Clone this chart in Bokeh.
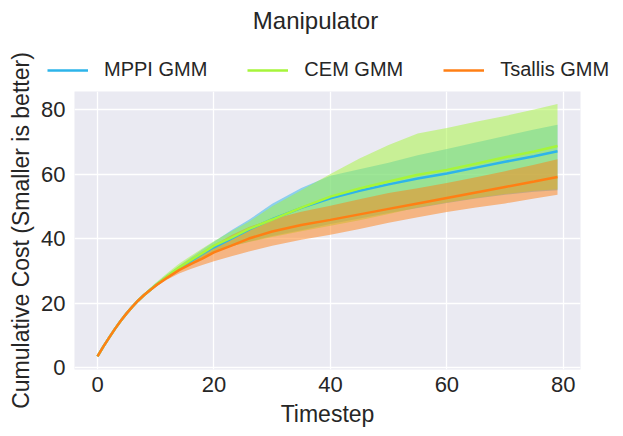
from bokeh.plotting import figure
from bokeh.models import Legend, LegendItem, Range1d, FixedTicker, Label
from bokeh.layouts import row, column
from bokeh.embed import file_html
from bokeh.resources import INLINE

# ---- data ----
timesteps = [0, 1, 2, 3, 4, 5, 6, 7, 8, 9, 10, 12, 14, 16, 18, 20, 23, 26, 30, 35,
             40, 45, 50, 55, 60, 65, 70, 75, 79]

mppi_mean = [3.5, 6.5, 9.3, 12.0, 14.5, 16.8, 18.9, 20.8, 22.5, 24.0, 25.5, 28.2, 30.8, 33.0, 35.2, 37.3, 40.0, 42.8, 46.0, 49.5,
             52.5, 54.8, 56.8, 58.6, 60.2, 62.0, 63.8, 65.5, 67.1]
mppi_lo = [3.5, 6.5, 9.3, 12.0, 14.5, 16.7, 18.8, 20.6, 22.3, 23.8, 25.2, 27.7, 30.1, 32.1, 34.0, 35.8, 37.6, 39.0, 40.8, 42.6,
           44.5, 46.2, 47.9, 49.5, 51.0, 52.4, 53.6, 54.5, 55.0]
mppi_hi = [3.5, 6.5, 9.3, 12.0, 14.6, 16.9, 19.1, 21.1, 22.9, 24.5, 26.0, 28.9, 31.6, 34.1, 36.6, 39.0, 42.6, 45.8, 50.8, 55.7,
           59.5, 61.5, 63.5, 65.8, 67.8, 69.8, 71.8, 73.8, 75.3]

cem_mean = [3.5, 6.5, 9.3, 12.0, 14.5, 16.8, 18.9, 20.8, 22.5, 24.0, 25.5, 28.3, 31.0, 33.3, 35.5, 37.8, 40.3, 43.0, 45.9, 49.6,
            53.0, 55.5, 57.7, 59.8, 61.3, 63.2, 65.2, 67.0, 68.7]
cem_lo = [3.5, 6.5, 9.3, 12.0, 14.5, 16.7, 18.8, 20.6, 22.3, 23.8, 25.1, 27.6, 30.0, 32.0, 34.0, 36.0, 37.6, 38.9, 40.5, 42.3,
          44.0, 45.7, 47.6, 49.6, 51.2, 52.6, 53.8, 54.8, 55.3]
cem_hi = [3.5, 6.5, 9.4, 12.1, 14.7, 17.0, 19.2, 21.2, 23.0, 24.7, 26.3, 29.3, 32.2, 34.6, 36.9, 39.2, 42.3, 45.2, 50.0, 55.0,
          60.0, 64.8, 69.0, 72.6, 74.3, 76.2, 78.0, 80.0, 81.7]

tsallis_mean = [3.5, 6.5, 9.3, 12.0, 14.5, 16.8, 18.9, 20.8, 22.5, 24.0, 25.4, 27.9, 30.2, 32.1, 33.8, 35.7, 37.8, 40.0, 42.2, 44.2,
                45.8, 47.5, 49.2, 50.9, 52.6, 54.3, 56.0, 57.7, 59.1]
tsallis_lo = [3.5, 6.5, 9.3, 12.0, 14.4, 16.6, 18.6, 20.4, 22.0, 23.5, 25.1, 27.3, 29.2, 30.6, 31.8, 33.0, 34.5, 36.0, 37.8, 39.6,
              41.2, 43.0, 44.9, 46.6, 48.2, 49.6, 50.9, 52.4, 53.6]
tsallis_hi = [3.5, 6.5, 9.3, 12.0, 14.6, 16.9, 19.1, 21.0, 22.8, 24.3, 25.7, 28.3, 30.8, 33.0, 35.2, 38.0, 41.0, 43.6, 46.0, 48.3,
              50.2, 52.2, 54.1, 55.6, 57.2, 59.0, 60.9, 62.9, 64.6]

series_names = ["MPPI GMM", "CEM GMM", "Tsallis GMM"]
x_ticks = [0, 20, 40, 60, 80]
y_ticks = [0, 20, 40, 60, 80]
title_text = "Manipulator"
x_label = "Timestep"
y_label = "Cumulative Cost (Smaller is better)"

# ---- styling ----
FONT = "Liberation Sans"
TXT = "#262626"
colors = ["#2db4ea", "#a6f53a", "#ff7f14"]

LEFT_W, RIGHT_W = 38, 577
TOP_H, MAIN_H = 91, 343


def blank(w, h):
    f = figure(width=w, height=h, output_backend="svg", toolbar_location=None,
               x_axis_location=None, y_axis_location=None, frame_align=False,
               x_range=Range1d(0, w), y_range=Range1d(0, h), min_border=0,
               min_border_left=0, min_border_right=0, min_border_top=0, min_border_bottom=0)
    f.outline_line_color = None
    f.grid.visible = False
    f.background_fill_color = "white"
    f.border_fill_color = "white"
    return f


# left strip holding the y-axis label (spans the full height)
left = blank(LEFT_W, TOP_H + MAIN_H)
left.add_layout(Label(x=20, y=TOP_H + MAIN_H - 230, text=y_label, angle=90, angle_units="deg",
                      text_align="center", text_baseline="middle",
                      text_font=FONT, text_font_size="23px", text_color=TXT))

# top strip: title + legend
top = blank(RIGHT_W, TOP_H)
top.add_layout(Label(x=277, y=TOP_H - 20, text=title_text,
                     text_align="center", text_baseline="middle",
                     text_font=FONT, text_font_size="24px", text_color=TXT))

# main chart
p = figure(width=RIGHT_W, height=MAIN_H, output_backend="svg", toolbar_location=None,
           frame_align=False,
           x_range=Range1d(-3.95, 82.95), y_range=Range1d(-0.6, 85.6),
           min_border_left=34, min_border_right=35, min_border_top=0, min_border_bottom=65)
p.background_fill_color = "#eaeaf2"
p.border_fill_color = "white"
p.outline_line_color = None

for ax in (p.xaxis, p.yaxis):
    ax.axis_line_color = None
    ax.major_tick_line_color = None
    ax.minor_tick_line_color = None
    ax.major_tick_out = 0
    ax.major_tick_in = 0
    ax.major_label_text_font = FONT
    ax.major_label_text_font_size = "22px"
    ax.major_label_text_color = TXT
    ax.axis_label_text_font = FONT
    ax.axis_label_text_font_size = "23px"
    ax.axis_label_text_font_style = "normal"
    ax.axis_label_text_color = TXT
p.xaxis.ticker = FixedTicker(ticks=x_ticks)
p.yaxis.ticker = FixedTicker(ticks=y_ticks)
p.xaxis.axis_label = x_label
p.xaxis.major_label_standoff = 7
p.yaxis.major_label_standoff = 9
p.xaxis.axis_label_standoff = 6

p.grid.grid_line_color = "white"
p.grid.grid_line_width = 1.3

bands = [(mppi_lo, mppi_hi), (cem_lo, cem_hi), (tsallis_lo, tsallis_hi)]
means = [mppi_mean, cem_mean, tsallis_mean]

for (lo, hi), c in zip(bands, colors):
    p.varea(x=timesteps, y1=lo, y2=hi, fill_color=c, fill_alpha=0.5)

items = []
for m, c, name in zip(means, colors, series_names):
    p.line(timesteps, m, line_color=c, line_width=2.5)
    # hidden copy in the top strip, used only as the legend key
    r = top.line(timesteps, m, line_color=c, line_width=2.5, visible=False)
    items.append(LegendItem(label=name, renderers=[r]))

legend = Legend(items=items, orientation="horizontal", location=(9, 10),
                label_text_font=FONT, label_text_font_size="20px", label_text_color=TXT,
                glyph_width=41, label_standoff=16, spacing=40, padding=0, margin=0,
                border_line_color=None, background_fill_alpha=0,
                inactive_fill_alpha=0)
top.add_layout(legend, "center")

layout = row(left, column(top, p))
open("out.html", "w").write(file_html(layout, INLINE))
